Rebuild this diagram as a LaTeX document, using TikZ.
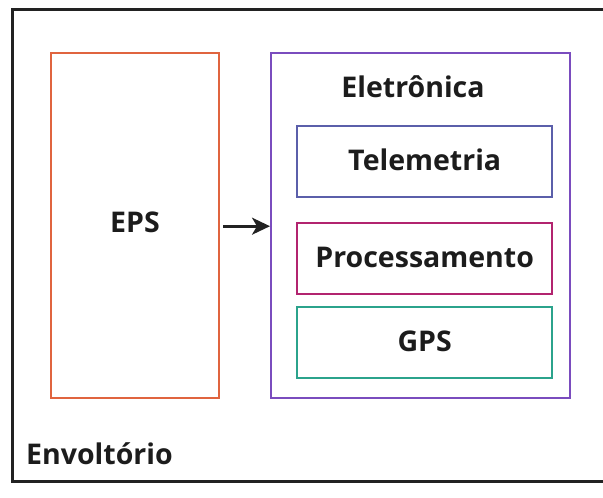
\documentclass[tikz,border=0pt]{standalone}
\usepackage{fontspec}
\setmainfont{Open Sans}
\usetikzlibrary{arrows.meta}
\definecolor{frame}{HTML}{222222}
\definecolor{epsc}{HTML}{E0643F}
\definecolor{elec}{HTML}{7A4CBE}
\definecolor{telc}{HTML}{5B5FAA}
\definecolor{proc}{HTML}{B2246F}
\definecolor{gpsc}{HTML}{2BA38C}
\definecolor{txt}{HTML}{1C1C1C}
\tikzset{
  box/.style={draw, line width=2.4pt, inner sep=0pt},
  lbl/.style={font=\bfseries\fontsize{28.5}{32}\selectfont, text=txt, inner sep=0pt},
}
\begin{document}
\begin{tikzpicture}[x=1pt,y=-1pt]
\useasboundingbox (0,0) rectangle (603,498);
\fill[white] (0,0) rectangle (603,498);
\draw[frame, line width=3pt] (12,9) rectangle (610,481);
\node[box, draw=epsc, minimum width=168pt, minimum height=345pt, anchor=north west] (eps) at (50,52) {};
\node[box, draw=elec, minimum width=299pt, minimum height=345pt, anchor=north west] (ele) at (270,52) {};
\node[box, draw=telc, minimum width=255pt, minimum height=71pt, anchor=north west] (tel) at (296,125) {};
\node[box, draw=proc, minimum width=255pt, minimum height=71pt, anchor=north west] (pro) at (296,222) {};
\node[box, draw=gpsc, minimum width=255pt, minimum height=71pt, anchor=north west] (gps) at (296,306) {};
\node[lbl] (tepS) at (135,222) {EPS};
\node[lbl] (tele) at (413,87) {Eletrônica};
\node[lbl] (ttel) at ([yshift=1.5pt]tel.center) {Telemetria};
\node[lbl] (tpro) at ([yshift=1.5pt]pro.center) {Processamento};
\node[lbl] (tgps) at ([yshift=1.5pt]gps.center) {GPS};
\node[lbl, anchor=base west] (tenv) at (26,464) {Envoltório};
\draw[frame, line width=2.6pt, -{Stealth[length=18pt,width=17pt,inset=5pt]}] ([xshift=3pt,yshift=-0.5pt]eps.east) -- ([yshift=-0.5pt]ele.west);
\end{tikzpicture}
\end{document}
